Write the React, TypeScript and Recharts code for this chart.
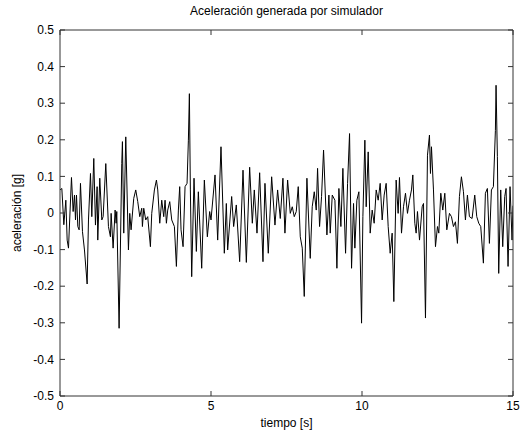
import React from 'react';
import { LineChart, Line, XAxis, YAxis } from 'recharts';

const timeS = [
  0, 0.061, 0.127, 0.193, 0.237, 0.281, 0.38, 0.435, 0.48, 0.513, 0.546, 0.59, 0.634, 0.678, 0.744, 0.81, 0.899, 0.943,
  1.009, 1.053, 1.119, 1.174, 1.229, 1.251, 1.317, 1.384, 1.428, 1.516, 1.604, 1.67, 1.693, 1.759, 1.825, 1.858, 1.88, 1.957,
  2.045, 2.067, 2.111, 2.178, 2.266, 2.31, 2.354, 2.442, 2.508, 2.575, 2.641, 2.707, 2.729, 2.773, 2.839, 2.905, 2.994,
  3.038, 3.126, 3.193, 3.237, 3.303, 3.369, 3.435, 3.479, 3.523, 3.567, 3.634, 3.7, 3.788, 3.854, 3.92, 3.964,
  4.008, 4.075, 4.141, 4.207, 4.251, 4.284, 4.317, 4.361, 4.438, 4.515, 4.581, 4.692, 4.78, 4.879, 4.956,
  5.0, 5.133, 5.221, 5.331, 5.441, 5.508, 5.552, 5.684, 5.75, 5.838, 5.949,
  6.06, 6.17, 6.28, 6.368, 6.434, 6.523, 6.611, 6.721, 6.787, 6.897,
  7.008, 7.118, 7.206, 7.294, 7.382, 7.448, 7.537, 7.625, 7.691, 7.757, 7.823, 7.889, 7.956,
  8.022, 8.088, 8.176, 8.286, 8.352, 8.419, 8.485, 8.529, 8.595, 8.661, 8.727, 8.838, 8.904, 8.948,
  9.015, 9.103, 9.169, 9.235, 9.301, 9.367, 9.456, 9.522, 9.588, 9.654, 9.72, 9.764, 9.83, 9.897, 9.985,
  10.029, 10.095, 10.139, 10.205, 10.271, 10.337, 10.403, 10.47, 10.536, 10.602, 10.668, 10.734, 10.8, 10.867, 10.933, 10.999,
  11.054, 11.131, 11.197, 11.241, 11.308, 11.374, 11.44, 11.506, 11.572, 11.638, 11.683, 11.749, 11.793, 11.837, 11.904, 11.992,
  12.036, 12.102, 12.168, 12.234, 12.267, 12.3, 12.367, 12.433, 12.499, 12.543, 12.609, 12.675, 12.742, 12.808, 12.896, 12.962,
  13.028, 13.094, 13.16, 13.226, 13.292, 13.359, 13.425, 13.491, 13.557, 13.645, 13.733, 13.8, 13.866, 13.932,
  14.02, 14.086, 14.152, 14.219, 14.285, 14.351, 14.417, 14.439, 14.483, 14.527, 14.593, 14.66, 14.726, 14.77, 14.836, 14.902, 14.968,
  15,
];

const accelG = [
  0.063, 0.067, -0.032, 0.035, -0.074, -0.096, 0.097, 0.004, 0.049, -0.019, 0.049, -0.037, -0.046, 0.081, -0.051, -0.101, -0.194, -0.019,
  0.108, -0.01, 0.149, -0.033, 0.072, -0.074, 0.095, -0.019, -0.01, 0.135, -0.037, -0.065, -0.001, -0.096, 0.008, -0.028, 0.004, -0.315,
  0.135, 0.195, -0.055, 0.208, -0.101, -0.001, -0.046, 0.04, 0.063, 0.031, -0.01, 0.013, -0.037, 0.013, -0.019, -0.01, -0.092,
  -0.001, 0.063, 0.09, 0.063, -0.028, 0.035, -0.01, 0.035, -0.028, 0.008, 0.031, -0.019, -0.037, -0.146, 0.008, 0.072,
  -0.046, -0.092, 0.072, 0.081, 0.199, 0.326, 0.063, -0.174, 0.095, -0.105, 0.058, -0.151, 0.09, -0.065, 0.004,
  -0.019, 0.104, -0.074, 0.181, -0.11, 0.026, -0.101, 0.045, -0.037, 0.022, -0.133,
  0.117, -0.135, 0.125, -0.028, 0.063, -0.055, 0.11, -0.133, 0.081, -0.11,
  0.099, -0.033, 0.063, -0.015, 0.095, -0.055, 0.09, -0.001, 0.017, -0.01, 0.004, 0.072, -0.065,
  -0.096, -0.228, 0.095, -0.124, 0.017, 0.058, 0.008, 0.122, -0.037, 0.045, 0.172, -0.06, 0.049, -0.055,
  0.049, 0.035, -0.151, 0.067, -0.037, 0.122, -0.11, 0.081, 0.217, -0.151, 0.026, -0.096, 0.035, 0.058, -0.301,
  -0.01, 0.199, 0.017, 0.167, -0.055, 0.008, -0.028, 0.063, 0.035, 0.081, -0.019, 0.049, 0.081, -0.037, -0.11, -0.055,
  -0.242, 0.09, -0.001, 0.097, -0.055, 0.017, 0.054, -0.001, 0.035, 0.063, 0.104, -0.028, -0.055, 0.004, -0.074, 0.017,
  0.026, -0.287, 0.158, 0.213, 0.108, 0.181, 0.063, -0.092, -0.037, -0.055, 0.054, 0.008, 0.054, -0.046, -0.001, -0.01,
  -0.037, -0.024, -0.083, 0.045, 0.099, 0.058, -0.019, 0.049, -0.01, -0.015, 0.049, -0.01, -0.028, -0.037,
  -0.137, 0.054, 0.067, -0.083, 0.063, 0.072, 0.226, 0.349, 0.154, -0.165, 0.063, -0.092, 0.045, 0.067, -0.146, 0.072, -0.074,
  0.02,
];

const xTicks = [0, 5, 10, 15];
const yTicks = [-0.5, -0.4, -0.3, -0.2, -0.1, 0, 0.1, 0.2, 0.3, 0.4, 0.5];
const titleText = 'Aceleración generada por simulador';
const xLabelText = 'tiempo [s]';
const yLabelText = 'aceleración [g]';

const data = timeS.map((t, i) => ({ t, a: accelG[i] }));

const FONT = '"Liberation Sans", Arial, sans-serif';
const AXIS = '#333';
const FS = 12;
const TL = 5;
const fmt = (v: number) => String(Number(v.toFixed(1)));

const BottomTick = (p: any) => (
  <g>
    <line x1={p.x} y1={p.y} x2={p.x} y2={p.y - TL} stroke={AXIS} />
    <text x={p.x} y={p.y + 5} dy="0.71em" textAnchor="middle" fill="#000" fontSize={FS} fontFamily={FONT}>
      {fmt(p.payload.value)}
    </text>
  </g>
);
const LeftTick = (p: any) => (
  <g>
    <line x1={p.x} y1={p.y} x2={p.x + TL} y2={p.y} stroke={AXIS} />
    <text x={p.x - 6} y={p.y} dy="0.355em" textAnchor="end" fill="#000" fontSize={FS} fontFamily={FONT}>
      {fmt(p.payload.value)}
    </text>
  </g>
);
const TopTick = (p: any) => <line x1={p.x} y1={p.y} x2={p.x} y2={p.y + TL} stroke={AXIS} />;
const RightTick = (p: any) => <line x1={p.x} y1={p.y} x2={p.x - TL} y2={p.y} stroke={AXIS} />;

export default function App() {
  return (
    <div style={{ position: 'absolute', left: 0, top: 0, width: 531, height: 436, background: '#fff', fontFamily: FONT }}>
      <LineChart width={531} height={436} data={data} margin={{ top: 29, right: 17, bottom: 0, left: 0 }}>
        <XAxis
          xAxisId="b"
          dataKey="t"
          type="number"
          domain={[0, 15]}
          ticks={xTicks}
          interval={0}
          allowDataOverflow
          height={40}
          tickSize={0}
          tickMargin={0}
          tickLine={false}
          stroke={AXIS}
          tick={<BottomTick />}
        />
        <XAxis
          xAxisId="t"
          orientation="top"
          dataKey="t"
          type="number"
          domain={[0, 15]}
          ticks={xTicks}
          interval={0}
          allowDataOverflow
          height={1}
          tickSize={0}
          tickMargin={0}
          tickLine={false}
          stroke={AXIS}
          tick={<TopTick />}
        />
        <YAxis
          yAxisId="l"
          type="number"
          domain={[-0.5, 0.5]}
          ticks={yTicks}
          interval={0}
          allowDataOverflow
          width={60}
          tickSize={0}
          tickMargin={0}
          tickLine={false}
          stroke={AXIS}
          tick={<LeftTick />}
        />
        <YAxis
          yAxisId="r"
          orientation="right"
          type="number"
          domain={[-0.5, 0.5]}
          ticks={yTicks}
          interval={0}
          allowDataOverflow
          width={1}
          tickSize={0}
          tickMargin={0}
          tickLine={false}
          stroke={AXIS}
          tick={<RightTick />}
        />
        <Line
          xAxisId="t"
          yAxisId="r"
          type="linear"
          dataKey="a"
          stroke="none"
          dot={false}
          activeDot={false}
          legendType="none"
          isAnimationActive={false}
        />
        <Line
          xAxisId="b"
          yAxisId="l"
          type="linear"
          dataKey="a"
          stroke="#000"
          strokeWidth={1}
          dot={false}
          activeDot={false}
          isAnimationActive={false}
        />
      </LineChart>
      <div style={{ position: 'absolute', left: 0, width: 531, top: 4, textAlign: 'center', paddingLeft: 60, paddingRight: 18, boxSizing: 'border-box', fontSize: FS, color: '#000', lineHeight: '14px' }}>
        {titleText}
      </div>
      <div style={{ position: 'absolute', left: 0, width: 531, top: 416, textAlign: 'center', paddingLeft: 60, paddingRight: 18, boxSizing: 'border-box', fontSize: FS, color: '#000', lineHeight: '14px' }}>
        {xLabelText}
      </div>
      <div style={{ position: 'absolute', left: 17 - 100, top: 213 - 7, width: 200, textAlign: 'center', transform: 'rotate(-90deg)', fontSize: FS, color: '#000', lineHeight: '14px' }}>
        {yLabelText}
      </div>
    </div>
  );
}
